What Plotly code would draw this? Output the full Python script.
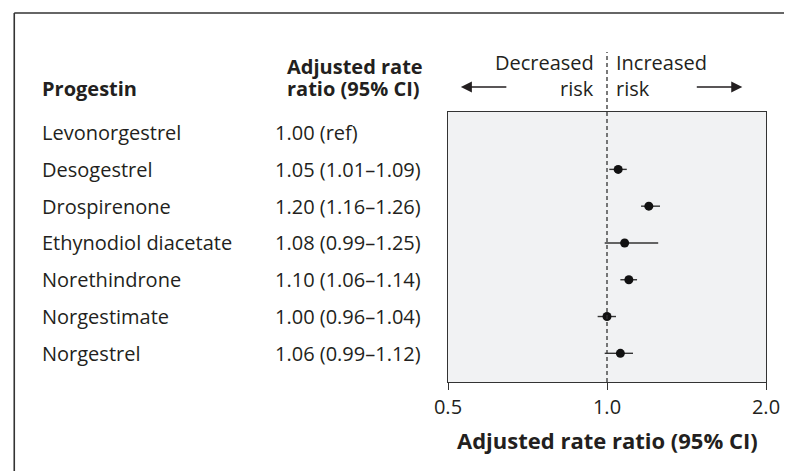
import plotly.graph_objects as go

progestins = ["Levonorgestrel", "Desogestrel", "Drospirenone", "Ethynodiol diacetate",
              "Norethindrone", "Norgestimate", "Norgestrel"]
ratio_text = ["1.00 (ref)", "1.05 (1.01\u20131.09)", "1.20 (1.16\u20131.26)", "1.08 (0.99\u20131.25)",
              "1.10 (1.06\u20131.14)", "1.00 (0.96\u20131.04)", "1.06 (0.99\u20131.12)"]
estimate = [None, 1.05, 1.20, 1.08, 1.10, 1.00, 1.06]
ci_low = [None, 1.01, 1.16, 0.99, 1.06, 0.96, 0.99]
ci_high = [None, 1.09, 1.26, 1.25, 1.14, 1.04, 1.12]
tick_vals = [0.5, 1.0, 2.0]
tick_text = ["0.5", "1.0", "2.0"]

# page has an 8px body margin; figure sized to fill the rest of the window
OFF = 8
W, H = 792 - OFF, 471 - OFF
PL, PR, PT, PB = 448, 770, 112, 382          # plot area in page pixels
L, R, T, B = PL - OFF, W - (PR - OFF), PT - OFF, H - (PB - OFF)
PW, PH = W - L - R, H - T - B

def px(x):
    return (x - OFF - L) / PW

def py(y):
    return (H - B - (y - OFF)) / PH

FONT = "Open Sans"
TXT = "#231f20"
FS = 20

rows = list(range(len(progestins)))
idx = [i for i in rows if estimate[i] is not None]

fig = go.Figure()
fig.add_trace(go.Scatter(
    x=[estimate[i] for i in idx],
    y=[rows[i] for i in idx],
    mode="markers",
    marker=dict(color="#111", size=9),
    error_x=dict(type="data", symmetric=False,
                 array=[ci_high[i] - estimate[i] for i in idx],
                 arrayminus=[estimate[i] - ci_low[i] for i in idx],
                 color="#333", thickness=1.4, width=0),
    showlegend=False, hoverinfo="skip",
))

def txt(x, y, s, anchor="left", yref="paper", size=FS):
    return dict(x=x, y=y, xref="paper", yref=yref, text=s, showarrow=False,
                xanchor=anchor, yanchor="middle",
                font=dict(family=FONT, size=size, color=TXT))

annotations = []
for i in rows:
    annotations.append(txt(px(35), rows[i], progestins[i], yref="y"))
    annotations.append(txt(px(271), rows[i], ratio_text[i], yref="y"))

annotations += [
    txt(px(35), py(88), "<b>Progestin</b>"),
    txt(px(283), py(66), "<b>Adjusted rate</b>"),
    txt(px(283), py(88), "<b>ratio (95% CI)</b>"),
    txt(px(598), py(62), "Decreased", anchor="right"),
    txt(px(598), py(88), "risk", anchor="right"),
    txt(px(616), py(62), "Increased"),
    txt(px(616), py(88), "risk"),
    dict(x=(px(PL) + px(PR)) / 2, y=py(440), xref="paper", yref="paper",
         text="<b>Adjusted rate ratio (95% CI)</b>", showarrow=False,
         xanchor="center", yanchor="middle",
         font=dict(family=FONT, size=22, color=TXT)),
    dict(x=px(461), y=py(87), xref="paper", yref="paper", text="", showarrow=True,
         ax=47, ay=0, axref="pixel", ayref="pixel", arrowhead=2, arrowsize=1.7, arrowwidth=1.3,
         arrowcolor=TXT),
    dict(x=px(746), y=py(87), xref="paper", yref="paper", text="", showarrow=True,
         ax=-47, ay=0, axref="pixel", ayref="pixel", arrowhead=2, arrowsize=1.7, arrowwidth=1.3,
         arrowcolor=TXT),
]

shapes = [
    dict(type="line", xref="x", yref="paper", x0=1, x1=1, y0=0, y1=py(52),
         line=dict(color="#333", width=1.3, dash="4px,3px")),
    dict(type="line", xref="paper", yref="paper", x0=px(8.8), x1=px(800), y0=py(13), y1=py(13),
         line=dict(color="#333", width=1.6)),
    dict(type="line", xref="paper", yref="paper", x0=px(8.8), x1=px(8.8), y0=py(13), y1=py(480),
         line=dict(color="#333", width=1.6)),
]

fig.update_layout(
    width=W, height=H,
    margin=dict(l=L, r=R, t=T, b=B, pad=0),
    paper_bgcolor="white",
    plot_bgcolor="#f1f2f3",
    font=dict(family=FONT, size=FS, color=TXT),
    annotations=annotations,
    shapes=shapes,
    xaxis=dict(type="log", range=[-0.30103, 0.30103], tickvals=tick_vals, ticktext=tick_text,
               ticks="outside", ticklen=7, tickwidth=1.3, tickcolor="#333",
               showline=True, linecolor="#333", linewidth=1.3, mirror=True,
               showgrid=False, zeroline=False,
               tickfont=dict(family=FONT, size=FS, color=TXT)),
    yaxis=dict(range=[6.78, -0.56], showticklabels=False, ticks="",
               showline=True, linecolor="#333", linewidth=1.3, mirror=True,
               showgrid=False, zeroline=False),
)

fig.write_html("out.html")
